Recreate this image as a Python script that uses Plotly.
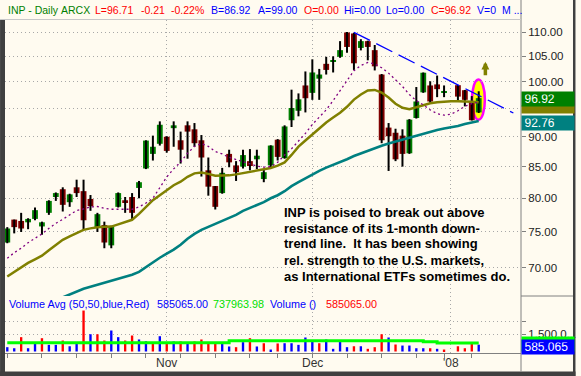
import math
import pandas as pd
import plotly.graph_objects as go

# ---------------- data ----------------
holidays = ["2007-11-22", "2007-12-25", "2008-01-01"]
dates = [d.strftime("%Y-%m-%d") for d in pd.bdate_range("2007-10-01", "2008-01-08")
         if d.strftime("%Y-%m-%d") not in holidays]

opens = [73.5, 76.8, 76.6, 76.4, 76.9, 75.8, 77.8, 80.2, 81.4, 79.4,
         81.7, 81.1, 79.9, 75.7, 76.0, 73.1, 78.7, 79.7, 80.2, 81.6,
         84.7, 87.1, 88.8, 90.0, 91.5, 89.4, 92.0, 91.3, 89.4, 84.4,
         81.9, 80.8, 87.1, 85.2, 85.0, 85.9, 86.2, 83.0, 85.2, 89.5,
         86.4, 92.9, 94.6, 99.3, 97.9, 100.6, 103.5, 103.9, 104.9, 109.9,
         109.7, 106.7, 108.1, 106.25, 101.4, 91.6, 90.7, 90.2, 87.2, 93.3,
         98.0, 99.3, 99.5, 97.9, None, 99.35, 98.4, 96.3, 94.3]
highs = [75.7, 76.8, 77.8, 77.0, 78.6, 76.5, 79.7, 80.9, 81.7, 80.7,
         82.9, 82.9, 80.5, 77.8, 76.5, 75.9, 80.9, 80.2, 80.8, 82.7,
         89.4, 90.2, 92.7, 90.1, 92.7, 90.9, 92.7, 92.4, 90.3, 86.5,
         81.9, 84.8, 87.8, 85.9, 87.8, 87.9, 87.8, 84.6, 88.55, 89.6,
         92.0, 98.5, 97.8, 102.0, 104.4, 102.5, 104.9, 105.0, 108.1, 110.0,
         109.8, 108.5, 108.2, 107.3, 101.5, 92.4, 91.4, 91.3, 93.1, 99.0,
         101.8, 100.1, 101.2, 99.3, None, 99.4, 98.45, 97.3, 98.2]
lows = [73.4, 74.8, 75.0, 75.4, 76.7, 74.6, 77.5, 79.6, 78.0, 78.7,
        80.2, 75.3, 78.1, 75.0, 72.7, 72.7, 78.6, 77.8, 76.9, 80.0,
        84.6, 86.0, 88.5, 87.3, 88.3, 85.5, 86.3, 88.3, 83.4, 80.4,
        78.3, 80.7, 84.9, 82.7, 84.7, 84.4, 84.6, 82.5, 84.9, 86.0,
        86.3, 91.7, 93.6, 94.3, 96.6, 96.6, 101.4, 101.8, 104.7, 105.7,
        102.3, 106.2, 104.2, 102.2, 88.9, 84.3, 85.9, 85.0, 87.1, 93.2,
        97.9, 96.0, 97.1, 97.1, None, 96.3, 95.4, 92.85, 94.2]
closes = [75.5, 75.7, 75.5, 76.9, 78.2, 76.4, 79.6, 80.8, 79.0, 80.6,
          80.8, 76.7, 78.8, 77.6, 73.5, 75.8, 80.8, 79.4, 77.8, 82.5,
          89.35, 88.3, 92.1, 87.6, 92.0, 87.8, 90.9, 88.9, 86.5, 81.8,
          78.7, 84.0, 85.7, 84.1, 86.9, 85.1, 86.8, 84.1, 88.5, 86.6,
          91.8, 95.1, 96.7, 96.9, 101.8, 101.4, 102.3, 104.2, 106.25, 106.9,
          103.6, 108.1, 106.9, 103.0, 89.4, 90.1, 86.2, 87.1, 93.0, 96.3,
          101.75, 96.3, 98.6, 98.2, None, 97.2, 96.6, 92.9, 96.92]
volumes = [370000, 280000, 1230000, 280000, 660000, 1140000, 570000, 570000, 940000, 450000,
           710000, 3510000, 1480000, 1480000, 940000, 1800000, 1230000, 940000, 1370000, 1030000,
           880000, 710000, 1310000, 660000, 860000, 860000, 800000, 860000, 1030000, 710000,
           660000, 660000, 430000, 370000, 800000, 1140000, 430000, 710000, 170000, 690000,
           710000, 710000, 570000, 1200000, 880000, 710000, 1030000, 230000, 940000, 370000,
           450000, 450000, 230000, 370000, 1480000, 1200000, 600000, 510000, 510000, 280000,
           280000, 280000, 230000, 170000, None, 450000, 280000, 710000, 585065]
vol_avg = [740000] * 32 + [930000] * 28 + [830000] * 2 + [737963.98] * 7
ma_fast = [71.32, 72.08, 72.71, 73.47, 74.1, 74.72, 75.52, 76.25, 76.84, 77.5,
           78.16, 78.38, 78.68, 78.75, 78.46, 78.34, 78.34, 78.34, 78.34, 78.68,
           79.27, 80.0, 81.72, 83.33, 84.64, 85.75, 87.21, 88.36, 88.83, 88.36,
           87.49, 87.09, 86.52, 86.17, 85.78, 85.43, 85.09, 84.92, 85.0, 85.7,
           86.92, 87.96, 89.18, 90.58, 92.15, 93.37, 94.77, 96.46, 98.35, 100.25,
           102.15, 103.19, 103.76, 103.48, 102.72, 101.67, 100.44, 99.11, 97.59, 96.46,
           95.68, 94.77, 94.07, 93.81, 93.99, 94.6, 95.42, 95.89, 96.17]
ma_mid = [68.87, 69.48, 70.0, 70.69, 71.18, 71.67, 72.43, 73.19, 73.89, 74.38,
          74.79, 75.3, 75.52, 75.69, 75.74, 75.78, 76.1, 76.47, 76.77, 77.65,
          78.68, 79.71, 80.47, 81.25, 82.03, 82.58, 83.36, 83.91, 84.06, 83.83,
          83.52, 83.55, 83.59, 83.75, 83.95, 84.14, 84.3, 84.53, 84.77, 85.17,
          85.7, 86.92, 88.31, 89.36, 90.4, 91.45, 92.5, 93.37, 94.25, 95.32,
          96.65, 97.59, 98.35, 98.45, 97.97, 97.03, 95.89, 95.13, 94.9, 95.23,
          95.61, 95.98, 96.17, 96.27, 96.33, 96.33, 96.33, 96.27, 96.17]
ma_slow = [None] * 8 + [66.17, 66.56, 66.95,
           67.27, 67.53, 67.79, 68.05, 68.31, 68.57, 68.83, 69.09, 69.48,
           70.14, 70.69, 71.39, 71.94, 72.5, 73.19, 74.03, 74.72, 75.3, 75.74,
           76.18, 76.62, 77.13, 77.5, 78.09, 78.53, 78.97, 79.41, 80.0, 80.47,
           81.09, 81.88, 82.5, 83.13, 83.75, 84.3, 84.84, 85.26, 85.78, 86.22,
           86.74, 87.18, 87.61, 88.14, 88.48, 88.83, 89.18, 89.53, 89.88, 90.14,
           90.49, 90.84, 91.19, 91.45, 91.63, 91.89, 92.24, 92.5, 92.76]
trend_bars = [50, 73]
trend_prices = [109.94, 94.2]
highlight_bars = [67.03, 68.89]
highlight_prices = [93.0, 100.44]
arrow_bar, arrow_price = 68.96, 103.92
price_ticks = [70, 75, 80, 85, 90, 95, 100, 105, 110]
hidden_ticks = [95]
month_labels = {"2007-11": "Nov", "2007-12": "Dec", "2008-01": "'08"}
note_lines = ["INP is poised to break out above",
              "resistance of its 1-month down-",
              "trend line.  It has been showing",
              "rel. strength to the U.S. markets,",
              "as International ETFs sometimes do."]

# ---------------- derived ----------------
idx = list(range(len(dates)))
month_idx, month_txt = [], []
for i in range(1, len(dates)):
    if dates[i][:7] != dates[i - 1][:7]:
        month_idx.append(i)
        month_txt.append(month_labels[dates[i][:7]])
mondays = [i for i, d in enumerate(dates) if pd.Timestamp(d).weekday() == 0]

vol_colors, prev = [], None
for c in closes:
    if c is None:
        vol_colors.append("#0000FF")
        continue
    vol_colors.append("#FF0000" if (prev is not None and c < prev) else "#0000FF")
    prev = c

wx, wy = [], []
bx, bbase, bh, bcol = [], [], [], []
for i in idx:
    if opens[i] is None:
        continue
    wx += [i, i, None]
    wy += [lows[i], highs[i], None]
    bx.append(i)
    bbase.append(min(opens[i], closes[i]))
    bh.append(max(abs(closes[i] - opens[i]), 0.15))
    bcol.append("#008000" if closes[i] >= opens[i] else "#800000")

# ---------------- layout geometry ----------------
W, H = 581, 376
ML, MR, MT, MB = 5, 55, 20, 23
PW, PH = W - ML - MR, H - MT - MB
def px(x):
    return (x - ML) / PW
def py(y):
    return (H - MB - y) / PH

FONT = "Liberation Sans, Arial, sans-serif"
BG = "#FFFBF0"
GRID = "#A8A8A8"

fig = go.Figure()
fig.add_trace(go.Scatter(x=wx, y=wy, mode="lines", line=dict(color="black", width=2),
                         yaxis="y", hoverinfo="skip"))
fig.add_trace(go.Bar(x=bx, y=bh, base=bbase, width=0.84, marker=dict(color=bcol, line=dict(width=0)),
                     yaxis="y"))
fig.add_trace(go.Scatter(x=idx, y=ma_slow, mode="lines", line=dict(color="#008080", width=2.6), yaxis="y"))
fig.add_trace(go.Scatter(x=idx, y=ma_mid, mode="lines", line=dict(color="#808000", width=2.5), yaxis="y"))
fig.add_trace(go.Scatter(x=idx, y=ma_fast, mode="lines",
                         line=dict(color="#800080", width=1.3, dash="2px,3px"), yaxis="y"))
fig.add_trace(go.Scatter(x=trend_bars, y=trend_prices, mode="lines",
                         line=dict(color="#0000FF", width=1.3, dash="18px,7px"), yaxis="y"))
fig.add_trace(go.Bar(x=idx, y=volumes, width=0.34, marker=dict(color=vol_colors, line=dict(width=0)),
                     yaxis="y2"))
fig.add_trace(go.Scatter(x=idx, y=vol_avg, mode="lines", line=dict(color="#00FF00", width=3, shape="hv"),
                         yaxis="y2"))

shapes = [
    dict(type="circle", xref="x", yref="y", x0=highlight_bars[0], x1=highlight_bars[1],
         y0=highlight_prices[0], y1=highlight_prices[1], fillcolor="#FFFF00",
         line=dict(color="#FF00FF", width=2.5), layer="below"),
    dict(type="rect", xref="paper", yref="paper", x0=px(0), x1=px(5), y0=py(376), y1=py(20),
         fillcolor="#404040", line=dict(width=0)),
    dict(type="rect", xref="paper", yref="paper", x0=px(0), x1=px(581), y0=py(376), y1=py(371.5),
         fillcolor="#404040", line=dict(width=0)),
    dict(type="rect", xref="paper", yref="paper", x0=px(578.5), x1=px(581), y0=py(376), y1=py(0),
         fillcolor="#404040", line=dict(width=0)),
    dict(type="line", xref="paper", yref="paper", x0=1, x1=1, y0=py(371.5), y1=py(0),
         line=dict(color="#808080", width=1)),
    dict(type="line", xref="paper", yref="paper", x0=1, x1=px(578.5), y0=py(296), y1=py(296),
         line=dict(color="#808080", width=1)),
    dict(type="line", xref="paper", yref="paper", x0=px(0), x1=1, y0=py(19.5), y1=py(19.5),
         line=dict(color="#C8C8C8", width=1)),
]

ann = []
header = [("INP - Daily", 5.7, "#008000"), ("ARCX", 60, "#008000"), ("L=96.71", 94.3, "#FF0000"),
          ("-0.21", 140, "#FF0000"), ("-0.22%", 170.7, "#FF0000"), ("B=86.92", 210.7, "#0000FF"),
          ("A=99.00", 258.3, "#0000FF"), ("O=0.00", 305, "#FF0000"), ("Hi=0.00", 345.7, "#0000FF"),
          ("Lo=0.00", 387.3, "#0000FF"), ("C=96.92", 432.7, "#FF0000"), ("V=0", 479.3, "#0000FF"),
          ("M ...", 505, "#0000FF")]
for t, x, c in header:
    ann.append(dict(text=t, xref="paper", yref="paper", x=px(x), y=py(10.5), xanchor="left",
                    yanchor="middle", showarrow=False, font=dict(family=FONT, size=10.5, color=c)))
vtexts = [("Volume Avg (50,50,blue,Red)", 6.7, "#0000FF"), ("585065.00", 156.7, "#0000FF"),
          ("737963.98", 213.3, "#00E000"), ("Volume ()", 270.7, "#0000FF"),
          ("585065.00", 326.7, "#FF0000")]
for t, x, c in vtexts:
    ann.append(dict(text=t, xref="paper", yref="paper", x=px(x), y=py(304), xanchor="left",
                    yanchor="middle", showarrow=False, font=dict(family=FONT, size=10.8, color=c)))
for k, line in enumerate(note_lines):
    ann.append(dict(text="<b>" + line + "</b>", xref="paper", yref="paper", x=px(285),
                    y=py(212 + 16 * k), xanchor="left", yanchor="middle", showarrow=False,
                    font=dict(family=FONT, size=13, color="black")))
for i, t in zip(month_idx, month_txt):
    ann.append(dict(text=t, xref="x", yref="paper", x=i, y=py(363), xanchor="center",
                    yanchor="middle", showarrow=False, font=dict(family=FONT, size=12, color="#333333")))
# price boxes on axis
def box(val, txt, bg, shift, axis="y", log=True, h=9):
    return dict(text=txt, xref="paper", yref=axis, x=1, y=(math.log10(val) if log else val),
                xanchor="left", yanchor="middle", yshift=shift, showarrow=False, align="left",
                width=47, height=h, borderpad=2.5, bgcolor=bg,
                font=dict(family=FONT, size=12, color="white"))
ann.append(box(ma_slow[-1], "92.76", "#008080", -2))
ann.append(box(ma_mid[-1], "", "#808000", -7, h=2))
ann.append(box(closes[-1], "96.92", "#008000", -1))
ann.append(box(vol_avg[-1], "", "#00FF00", -1, axis="y2", log=False))
ann.append(box(volumes[-1], "585,065", "#0000FF", -2.5, axis="y2", log=False))
ann.append(dict(text="", xref="x", yref="y", x=arrow_bar, y=math.log10(arrow_price), showarrow=True,
                ax=0, ay=15, arrowcolor="#808000", arrowwidth=3.5, arrowhead=2, arrowsize=0.45,
                standoff=0, startstandoff=0))

fig.update_layout(
    width=W, height=H, margin=dict(l=ML, r=MR, t=MT, b=MB, pad=0),
    paper_bgcolor=BG, plot_bgcolor=BG, showlegend=False, barmode="overlay",
    shapes=shapes, annotations=ann,
    xaxis=dict(range=[-0.33, -0.33 + PW / 7.0], anchor="y2", tickmode="array", tickvals=month_idx,
               ticktext=month_txt, showticklabels=False, ticks="", showgrid=True, gridcolor=GRID,
               griddash="1px,3px", gridwidth=1, showline=True, linecolor="#808080", linewidth=1,
               zeroline=False,
               minor=dict(tickmode="array", tickvals=mondays, ticks="outside", ticklen=4,
                          tickcolor="#808080", showgrid=False)),
    yaxis=dict(type="log", domain=[py(296), 1], range=[1.8218, 2.0514], side="right", anchor="x",
               tickmode="array", tickvals=price_ticks,
               ticktext=["" if v in hidden_ticks else "%.2f" % v for v in price_ticks],
               ticks="outside", ticklen=4, tickcolor="#808080", showgrid=True, gridcolor=GRID,
               griddash="1px,3px", zeroline=False, showline=False,
               tickfont=dict(family=FONT, size=11.5, color="#222222")),
    yaxis2=dict(domain=[0, py(296)], range=[-128500, 4756000], side="right", anchor="x",
                tickmode="array", tickvals=[1500000, 2600000], ticktext=["1,500.0...", ""],
                ticks="outside", ticklen=4, tickcolor="#808080", showgrid=True, gridcolor=GRID,
                griddash="1px,3px", zeroline=False, showline=False,
                tickfont=dict(family=FONT, size=11.5, color="#222222")),
)
fig.write_html("out.html", config={"displayModeBar": False},
               post_script="document.body.style.margin='0';document.body.style.overflow='hidden';")
